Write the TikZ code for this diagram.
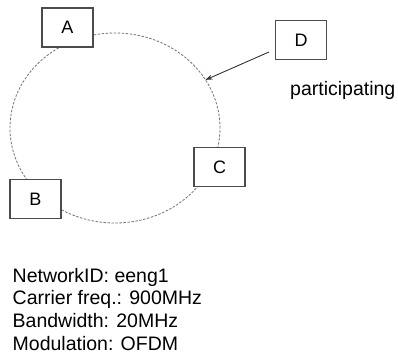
\documentclass[tikz,border=0pt]{standalone}
\usepackage{fontspec}
\setmainfont{Liberation Sans}
\usetikzlibrary{shapes.geometric, arrows.meta, positioning}

\begin{document}
\begin{tikzpicture}[
        x=1pt, y=-1pt,
        station/.style = {rectangle, draw=black!70, line width=1.1pt, fill=white, minimum width=51pt, minimum height=39pt, inner sep=0pt, font=\fontsize{18}{22}\selectfont},
        ring/.style = {ellipse, draw=black!55, dash pattern=on 2.5pt off 1.5pt, line width=0.8pt, minimum width=210pt, minimum height=190pt, inner sep=0pt, outer sep=0pt},
        infotext/.style = {anchor=base west, inner sep=0pt, font=\fontsize{19.5}{23}\selectfont},
        joinarrow/.style = {-{Stealth[length=7pt, width=5pt]}, line width=0.9pt, draw=black!80}
    ]

    \useasboundingbox (0,0) rectangle (398,356);

    % the cell, drawn behind the stations
    \node [ring] (cell) at (115,128) {};

    \node [station] (A) at (67.5,27.5) {A};
    \node [station] (B) at (35.5,199) {B};
    \node [station] (C) at (219.5,167) {C};
    \node [station] (D) at (301,40) {D};

    \draw [joinarrow] ([xshift=-6pt,yshift=-12pt]D.west) -- (cell.28);
    \node [infotext] (part) at (290,95) {participating};

    % network parameters
    \node [infotext] (info1) at (12.5,282) {NetworkID: eeng1};
    \node [infotext] (info2) at (12.5,304.5) {Carrier freq.: 900MHz};
    \node [infotext] (info3) at (12.5,327.5) {Bandwidth: 20MHz};
    \node [infotext] (info4) at (12.5,350) {Modulation: OFDM};

\end{tikzpicture}
\end{document}
